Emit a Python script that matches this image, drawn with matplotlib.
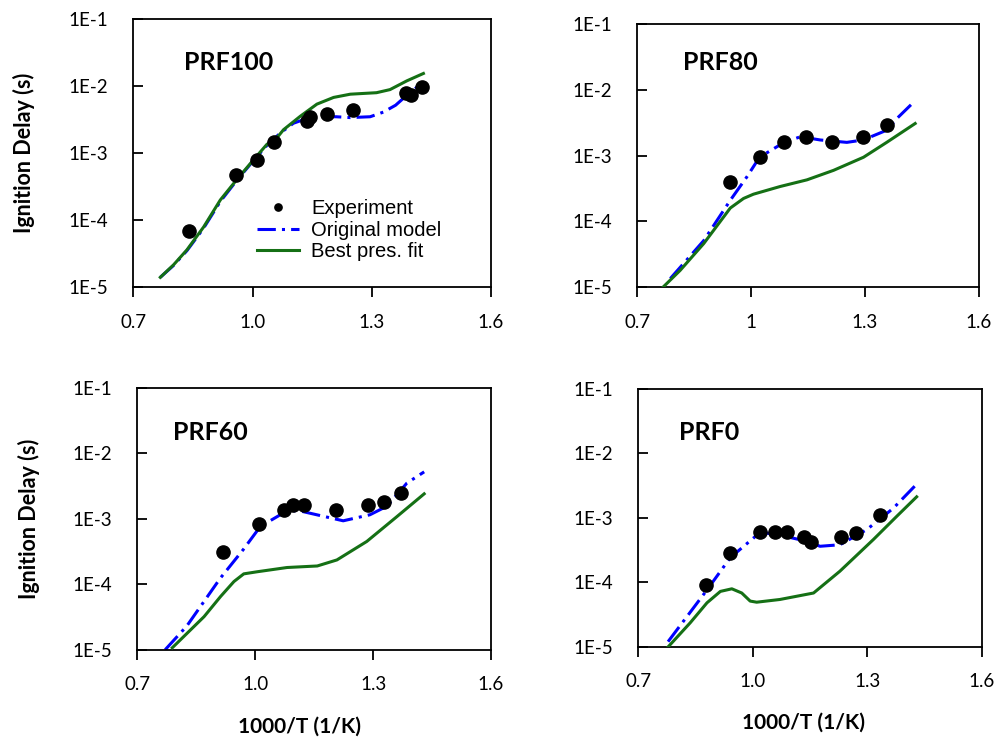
import matplotlib
matplotlib.use("Agg")
import matplotlib.pyplot as plt
import numpy as np

# ---- data (1000/T in 1/K, ignition delay in s) ----
# PRF100
prf100_exp_x = [0.841, 0.958, 1.011, 1.054, 1.137, 1.145, 1.188, 1.252, 1.386, 1.398, 1.427]
prf100_exp_y = [7.0e-5, 4.8e-4, 7.8e-4, 1.45e-3, 3.0e-3, 3.5e-3, 3.9e-3, 4.4e-3, 8.0e-3, 7.5e-3, 9.8e-3]
prf100_orig_x = [0.768, 0.801, 0.835, 0.877, 0.919, 0.960, 1.002, 1.036, 1.070, 1.103, 1.137, 1.162,
                 1.210, 1.246, 1.296, 1.329, 1.360, 1.388, 1.413, 1.426]
prf100_orig_y = [1.40e-5, 2.1e-5, 3.5e-5, 7.6e-5, 1.9e-4, 3.9e-4, 7.7e-4, 1.3e-3, 2.0e-3, 2.8e-3, 3.3e-3, 3.5e-3,
                 3.5e-3, 3.4e-3, 3.5e-3, 4.1e-3, 5.2e-3, 7.3e-3, 9.6e-3, 1.04e-2]
prf100_fit_x = [0.768, 0.801, 0.835, 0.877, 0.919, 0.960, 1.002, 1.036, 1.065, 1.078, 1.120, 1.162,
                1.204, 1.246, 1.312, 1.346, 1.388, 1.430]
prf100_fit_y = [1.40e-5, 2.14e-5, 3.6e-5, 7.9e-5, 2.0e-4, 4.0e-4, 7.9e-4, 1.35e-3, 1.8e-3, 2.24e-3, 3.55e-3, 5.4e-3,
                6.8e-3, 7.6e-3, 8.0e-3, 8.9e-3, 1.2e-2, 1.55e-2]

# PRF80
prf80_exp_x = [0.945, 1.022, 1.087, 1.144, 1.214, 1.295, 1.359]
prf80_exp_y = [4.0e-4, 9.5e-4, 1.6e-3, 1.95e-3, 1.6e-3, 1.95e-3, 2.9e-3]
prf80_orig_x = [0.787, 0.875, 0.945, 0.989, 1.022, 1.087, 1.130, 1.182, 1.252, 1.295, 1.357, 1.384, 1.432]
prf80_orig_y = [1.35e-5, 5.1e-5, 2.1e-4, 4.8e-4, 9.5e-4, 1.6e-3, 1.95e-3, 1.74e-3, 1.6e-3, 1.74e-3, 2.45e-3,
                3.7e-3, 6.9e-3]
prf80_fit_x = [0.768, 0.813, 0.875, 0.945, 0.980, 1.006, 1.076, 1.147, 1.217, 1.296, 1.357, 1.432]
prf80_fit_y = [1.0e-5, 1.8e-5, 4.6e-5, 1.6e-4, 2.24e-4, 2.6e-4, 3.4e-4, 4.3e-4, 6.0e-4, 9.5e-4, 1.6e-3, 3.1e-3]

# PRF60
prf60_exp_x = [0.918, 1.011, 1.074, 1.097, 1.125, 1.206, 1.286, 1.328, 1.370]
prf60_exp_y = [3.1e-4, 8.3e-4, 1.35e-3, 1.6e-3, 1.6e-3, 1.35e-3, 1.6e-3, 1.8e-3, 2.45e-3]
prf60_orig_x = [0.771, 0.826, 0.911, 0.970, 1.013, 1.064, 1.106, 1.165, 1.224, 1.292, 1.335, 1.386, 1.430]
prf60_orig_y = [1.0e-5, 2.3e-5, 1.23e-4, 3.4e-4, 7.6e-4, 1.15e-3, 1.35e-3, 1.12e-3, 9.3e-4, 1.15e-3, 1.55e-3,
                3.5e-3, 5.2e-3]
prf60_fit_x = [0.789, 0.870, 0.912, 0.946, 0.971, 1.005, 1.081, 1.158, 1.208, 1.284, 1.360, 1.430]
prf60_fit_y = [1.07e-5, 3.2e-5, 6.5e-5, 1.1e-4, 1.44e-4, 1.55e-4, 1.8e-4, 1.9e-4, 2.35e-4, 4.5e-4, 1.07e-3, 2.4e-3]

# PRF0
prf0_exp_x = [0.878, 0.941, 1.019, 1.057, 1.089, 1.134, 1.152, 1.230, 1.269, 1.333]
prf0_exp_y = [8.9e-5, 2.8e-4, 5.9e-4, 5.9e-4, 5.9e-4, 5.0e-4, 4.2e-4, 5.0e-4, 5.75e-4, 1.1e-3]
prf0_orig_x = [0.778, 0.880, 0.941, 1.019, 1.063, 1.141, 1.176, 1.228, 1.298, 1.368, 1.429]
prf0_orig_y = [1.2e-5, 7.6e-5, 2.4e-4, 5.9e-4, 5.5e-4, 4.3e-4, 3.6e-4, 3.8e-4, 6.5e-4, 1.4e-3, 3.3e-3]
prf0_fit_x = [0.775, 0.836, 0.880, 0.915, 0.945, 0.971, 0.993, 1.010, 1.071, 1.159, 1.228, 1.316, 1.377, 1.429]
prf0_fit_y = [9.5e-6, 2.35e-5, 4.8e-5, 7.2e-5, 7.9e-5, 6.8e-5, 5.1e-5, 4.9e-5, 5.4e-5, 6.8e-5, 1.48e-4, 4.6e-4,
              1.05e-3, 2.1e-3]

y_ticks = [1e-5, 1e-4, 1e-3, 1e-2, 1e-1]
y_tick_labels = ["1E-5", "1E-4", "1E-3", "1E-2", "1E-1"]
x_ticks = [0.7, 1.0, 1.3, 1.6]

BLUE = "#0000ff"
GREEN = "#157015"
TICK_FONT = "Lato"


def panel(fig, rect, title, title_xy, ex, ey, ox, oy, fx, fy, xlabels, ylabel=False, xlabel=None):
    ax = fig.add_axes(rect)
    ax.plot(ox, oy, color=BLUE, lw=2.2, dashes=(6, 2, 1, 2), label="Original model", zorder=2)
    ax.plot(fx, fy, color=GREEN, lw=2.2, label="Best pres. fit", zorder=3)
    ax.plot(ex, ey, "o", color="black", ms=9.5, label="Experiment", zorder=4)
    ax.set_yscale("log")
    ax.set_ylim(1e-5, 1e-1)
    ax.set_xlim(0.7, 1.6)
    ax.set_yticks(y_ticks)
    ax.set_yticklabels(y_tick_labels)
    ax.minorticks_off()
    ax.set_xticks(x_ticks)
    ax.set_xticklabels(xlabels)
    ax.tick_params(axis="y", direction="in", length=7, width=1.3, pad=18, labelsize=13.5)
    ax.tick_params(axis="x", direction="out", length=7, width=1.3, pad=12, labelsize=13.5)
    for lab in ax.get_xticklabels() + ax.get_yticklabels():
        lab.set_fontfamily(TICK_FONT)
    for s in ax.spines.values():
        s.set_linewidth(1.3)
    ax.text(title_xy[0], title_xy[1], title, transform=ax.transAxes, fontsize=18,
            fontweight="bold", family=TICK_FONT, va="center", ha="left")
    if ylabel:
        ax.set_ylabel("Ignition Delay (s)", fontsize=15.5, fontweight="bold", family=TICK_FONT)
        ax.yaxis.set_label_coords(-0.275, 0.5)
    if xlabel is not None:
        ax.set_xlabel("1000/T (1/K)", fontsize=15, fontweight="bold", family=TICK_FONT)
        ax.xaxis.set_label_coords(xlabel, -0.255)
    return ax


fig = plt.figure(figsize=(10.02, 7.4), dpi=100)

lab1 = ["0.7", "1.0", "1.3", "1.6"]
lab2 = ["0.7", "1", "1.3", "1.6"]

ax1 = panel(fig, [0.133, 0.612, 0.357, 0.362], "PRF100", (0.142, 0.84),
            prf100_exp_x, prf100_exp_y, prf100_orig_x, prf100_orig_y, prf100_fit_x, prf100_fit_y,
            lab1, ylabel=True)
panel(fig, [0.636, 0.612, 0.341, 0.355], "PRF80", (0.135, 0.855),
      prf80_exp_x, prf80_exp_y, prf80_orig_x, prf80_orig_y, prf80_fit_x, prf80_fit_y, lab2)
panel(fig, [0.137, 0.122, 0.353, 0.354], "PRF60", (0.10, 0.828),
      prf60_exp_x, prf60_exp_y, prf60_orig_x, prf60_orig_y, prf60_fit_x, prf60_fit_y,
      lab1, ylabel=True, xlabel=0.46)
panel(fig, [0.637, 0.126, 0.343, 0.349], "PRF0", (0.119, 0.83),
      prf0_exp_x, prf0_exp_y, prf0_orig_x, prf0_orig_y, prf0_fit_x, prf0_fit_y,
      lab1, xlabel=0.48)

h, l = ax1.get_legend_handles_labels()
order = [2, 0, 1]
ax1.legend([h[i] for i in order], [l[i] for i in order], loc="center left",
           bbox_to_anchor=(0.346, 0.213), frameon=False, borderpad=0, borderaxespad=0,
           handlelength=2.1, handletextpad=0.6, labelspacing=0.12, markerscale=0.55,
           prop={"family": "Liberation Sans", "size": 14.5})

fig.savefig("out.png", dpi=100)
